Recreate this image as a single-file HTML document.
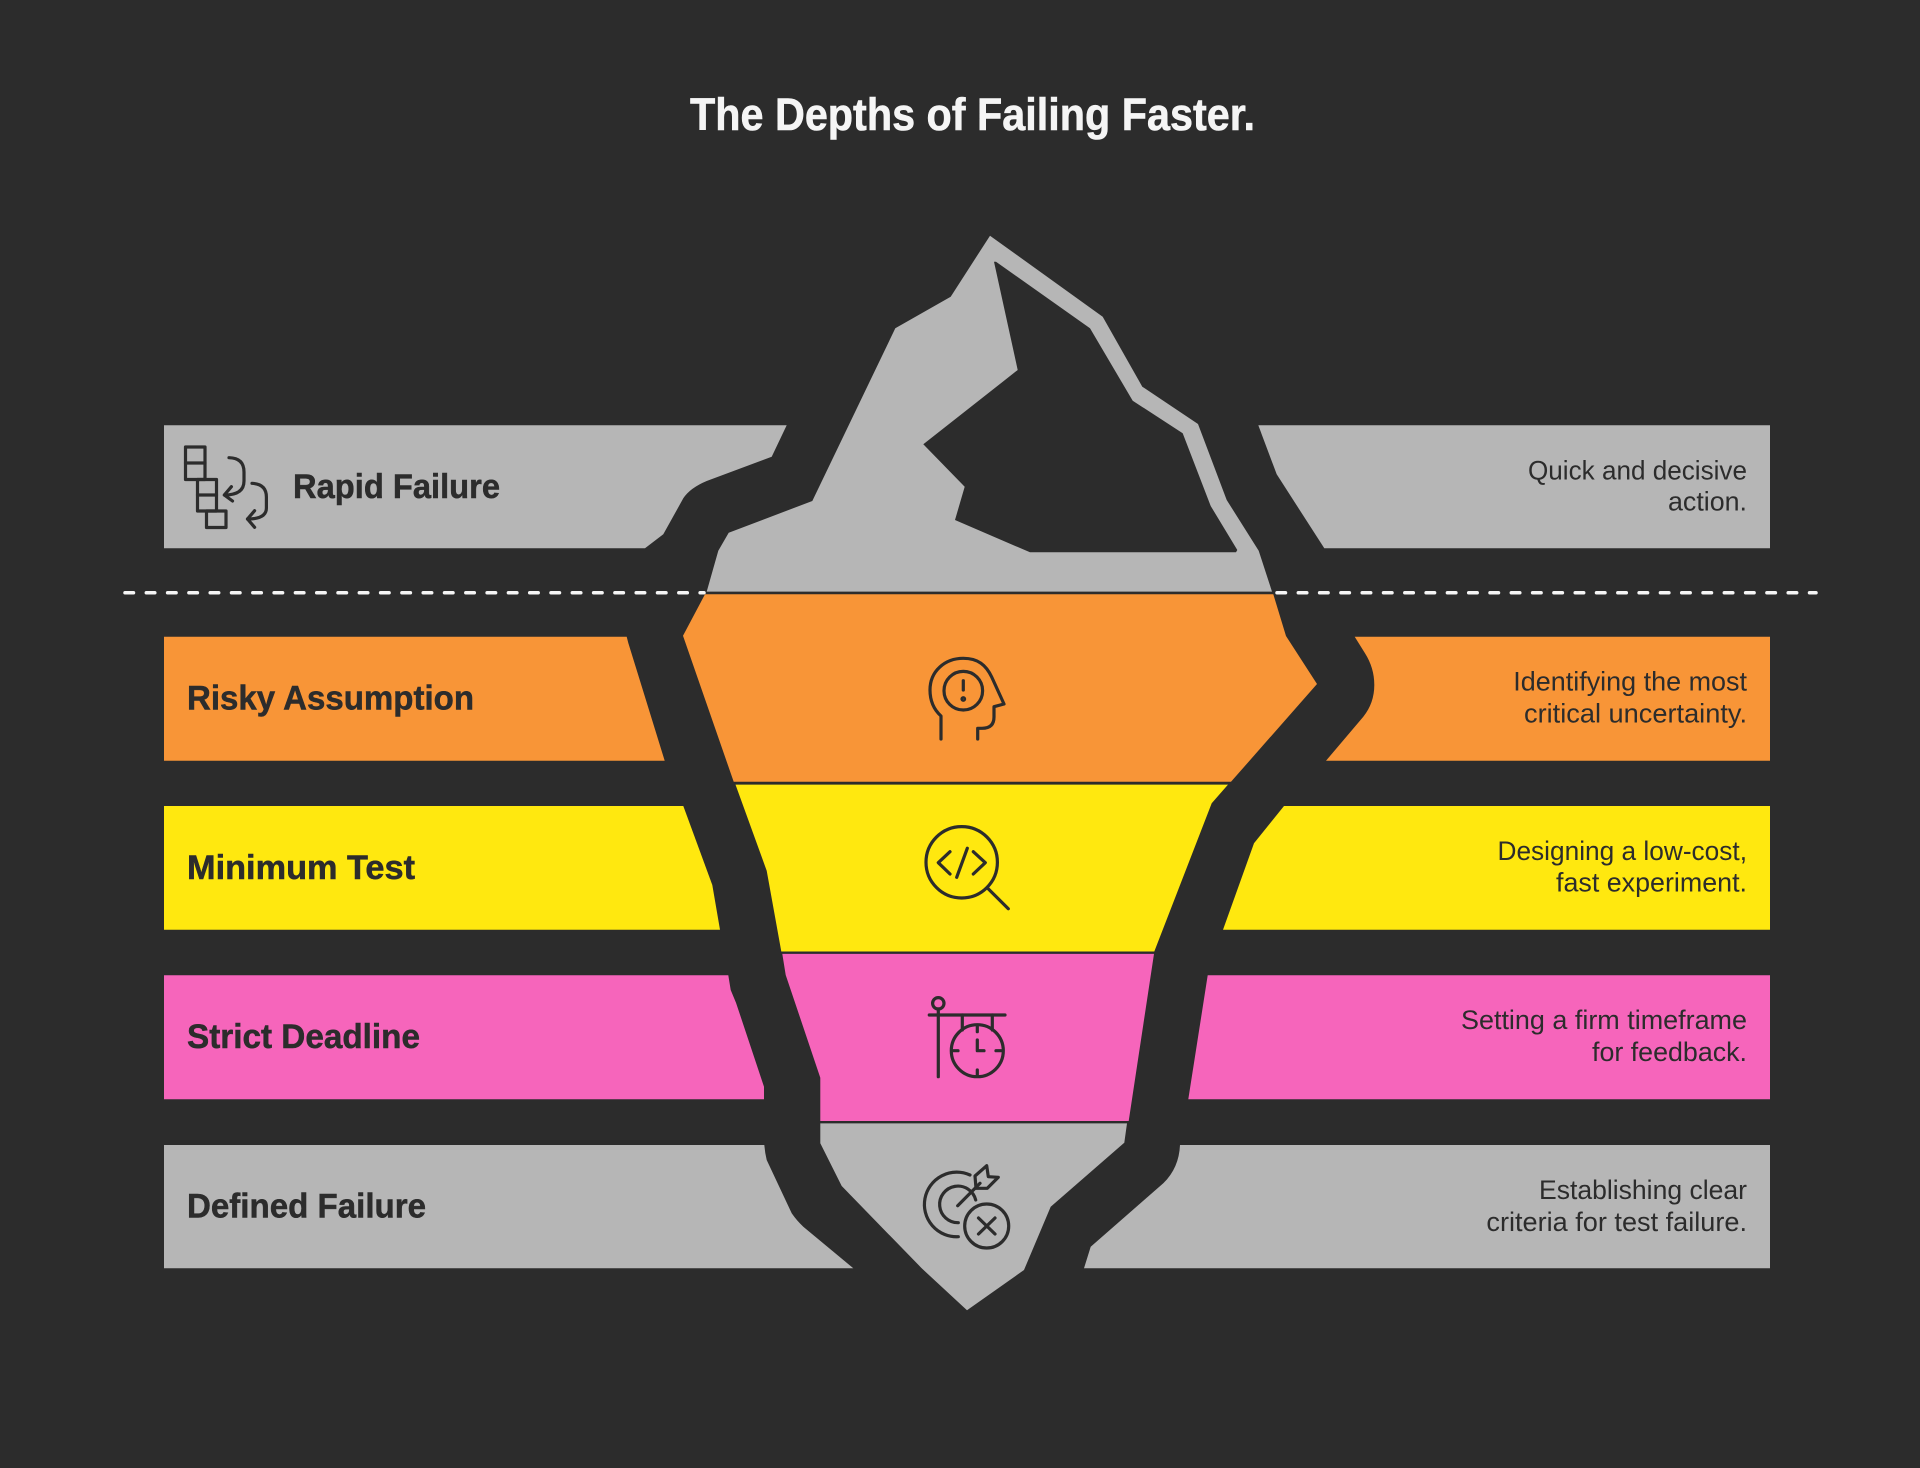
<!DOCTYPE html>
<html lang="en">
<head>
<meta charset="utf-8">
<title>The Depths of Failing Faster.</title>
<style>
html,body{margin:0;padding:0;background:#2c2c2c;width:1920px;height:1468px;overflow:hidden}
svg{display:block}
text{font-family:"Liberation Sans",sans-serif;fill:#2c2c2c}
.h{font-weight:700;font-size:34px;stroke:#2c2c2c;stroke-width:.5px}
.d{font-size:27px;text-anchor:end}
.i{fill:none;stroke:#2c2c2c;stroke-width:3.2;stroke-linecap:round;stroke-linejoin:round}
</style>
</head>
<body>
<svg xmlns="http://www.w3.org/2000/svg" width="1920" height="1468" viewBox="0 0 1920 1468">
<rect width="1920" height="1468" fill="#2c2c2c"/>
<text x="690" y="130" font-size="45" font-weight="700" style="fill:#f5f5f5;stroke:#f5f5f5;stroke-width:.6px" textLength="565" lengthAdjust="spacingAndGlyphs">The Depths of Failing Faster.</text>

<!-- left bars -->
<path fill="#b6b6b6" d="M164,425.3H786.7L771.7,456.7L706.7,481Q690,488 683.3,498.3L663.3,534.3L645,548.3H164Z"/>
<path fill="#f89537" d="M164,636.7H626.7L628.3,643L664.7,760.7H164Z"/>
<path fill="#ffe80f" d="M164,806H683.3L712.3,885L720,929.7H164Z"/>
<path fill="#f665bb" d="M164,975.3H728.3L730.7,990L736,1002.7L764,1086.7V1099.3H164Z"/>
<path fill="#b6b6b6" d="M164,1145H764.3Q765,1153 766.7,1160L791.7,1213.3Q797,1221 803.3,1226.7L853.3,1268.3H164Z"/>

<!-- right bars -->
<path fill="#b6b6b6" d="M1258.3,425.3H1770V548.3H1324.3L1276.7,474.3Z"/>
<path fill="#f89537" d="M1354.7,636.7L1365,653.3Q1374.3,668 1374.3,685Q1374.3,703 1363.3,716.7L1326,760.7H1770V636.7Z"/>
<path fill="#ffe80f" d="M1284,806H1770V929.7H1223L1254,843.3Z"/>
<path fill="#f665bb" d="M1207.7,975.3H1770V1099.3H1188.3Z"/>
<path fill="#b6b6b6" d="M1180,1145H1770V1268.3H1084L1090.7,1246.7L1163.3,1183.3Q1179,1168 1180,1145Z"/>

<!-- dashed waterline -->
<line x1="125" y1="592.7" x2="704" y2="592.7" stroke="#f5f5f5" stroke-width="3.5" stroke-linecap="round" stroke-dasharray="8.5 12.8"/>
<line x1="1277" y1="592.7" x2="1816" y2="592.7" stroke="#f5f5f5" stroke-width="3.5" stroke-linecap="round" stroke-dasharray="8.5 12.8"/>

<!-- iceberg -->
<path fill="#b6b6b6" fill-rule="evenodd" d="M990,235.7L1102.7,316.7L1142.3,386.7L1198,424L1226.7,500L1258.7,550.7L1272,591.6H706.7L718.3,550.7L728.7,532.7L812.3,501L895.3,328.3L950.7,296.7Z
M994,261.7L996,261.7L1090,328.3L1132.7,400.7L1182.7,433.3L1210.7,506L1237.3,550L1236,552.3H1030L955,520L964.7,486.7L923.3,444.3L1017.7,370Z"/>
<path fill="#f89537" d="M705,594.2H1273.3L1286,636L1317,684L1231,781.8H733.7L683,635.7Z"/>
<path fill="#ffe80f" d="M735.5,784.6H1228L1211.7,803.3L1154.3,951.5H781.3L766.7,870.7Z"/>
<path fill="#f665bb" d="M782.3,953.9H1154L1128.7,1121H820.3V1077.7L785.7,975Z"/>
<path fill="#b6b6b6" d="M820.3,1123.4H1127L1124.3,1142.7L1050.7,1206.7L1024,1270L967,1310.3L921.7,1268.3L841.7,1186L820.3,1143.3Z"/>

<!-- labels -->
<text class="h" x="293" y="498" textLength="207" lengthAdjust="spacingAndGlyphs">Rapid Failure</text>
<text class="h" x="187" y="709.5" textLength="287" lengthAdjust="spacingAndGlyphs">Risky Assumption</text>
<text class="h" x="187" y="879" textLength="228" lengthAdjust="spacingAndGlyphs">Minimum Test</text>
<text class="h" x="187" y="1048" textLength="233" lengthAdjust="spacingAndGlyphs">Strict Deadline</text>
<text class="h" x="187" y="1217.5" textLength="239" lengthAdjust="spacingAndGlyphs">Defined Failure</text>

<text class="d" x="1747" y="479.3" textLength="219" lengthAdjust="spacingAndGlyphs">Quick and decisive</text>
<text class="d" x="1747" y="510.7" textLength="79" lengthAdjust="spacingAndGlyphs">action.</text>
<text class="d" x="1747" y="690.7" textLength="233.7" lengthAdjust="spacingAndGlyphs">Identifying the most</text>
<text class="d" x="1747" y="722.7" textLength="223" lengthAdjust="spacingAndGlyphs">critical uncertainty.</text>
<text class="d" x="1747" y="860" textLength="249.5" lengthAdjust="spacingAndGlyphs">Designing a low-cost,</text>
<text class="d" x="1747" y="891.7" textLength="191" lengthAdjust="spacingAndGlyphs">fast experiment.</text>
<text class="d" x="1747" y="1029" textLength="286" lengthAdjust="spacingAndGlyphs">Setting a firm timeframe</text>
<text class="d" x="1747" y="1061" textLength="155" lengthAdjust="spacingAndGlyphs">for feedback.</text>
<text class="d" x="1747" y="1199" textLength="208" lengthAdjust="spacingAndGlyphs">Establishing clear</text>
<text class="d" x="1747" y="1231" textLength="260.6" lengthAdjust="spacingAndGlyphs">criteria for test failure.</text>

<!-- rapid icon -->
<g class="i">
<rect x="185.5" y="447" width="19.5" height="32.5"/><path d="M185.5,463H205"/>
<rect x="197.5" y="479.5" width="19" height="31.5"/><path d="M197.5,495H216.5"/>
<rect x="206.5" y="511" width="19.5" height="16.5"/>
<path d="M229,457.7Q244,458 244,472V481Q244,495 224.5,495"/><path d="M231.4,486.7L224.3,495L232.5,501"/>
<path d="M252,483.3Q266.4,484 266.4,497V508Q266.4,519 247.5,519"/><path d="M254.6,510.7L247.5,519L254.6,527.3"/>
</g>

<!-- head icon -->
<g class="i">
<path d="M941,739V716Q930,706 930,690C930,671 945,658.3 963.3,658.3C978,658.3 986,665 991.7,677L1004,704L994,706.7V717Q994,728.3 982,728.3H977.7V739"/>
<circle cx="963.3" cy="690.7" r="19.3"/>
<path d="M963.3,680.7V690"/>
<circle cx="963.3" cy="699" r="1.3"/>
</g>

<!-- code icon -->
<g class="i">
<circle cx="961.7" cy="862.3" r="35.7"/>
<path d="M950,851.7L938.3,862.7L950,874"/>
<path d="M973.3,851.7L985.3,862.7L973.3,874"/>
<path d="M967.3,848.3L956.7,877.3"/>
<path d="M987.7,888.3L1008.3,908.7"/>
</g>

<!-- clock icon -->
<g class="i">
<circle cx="938.3" cy="1003.3" r="5.7"/>
<path d="M938.3,1009V1076.7"/>
<path d="M929.3,1015H1005"/>
<path d="M962.3,1015V1030M992.3,1015V1030"/>
<circle cx="977.3" cy="1050.7" r="26"/>
<path d="M977.3,1026.7V1031.7M977.3,1070V1075M953,1050.7H958M996,1050.7H1001"/>
<path d="M977.3,1040V1050.7H984"/>
</g>

<!-- target icon -->
<g class="i">
<path d="M970,1175A32.3,32.3 0 1 0 958.3,1236.7"/>
<path d="M975.7,1200A18.3,18.3 0 1 0 958.3,1222.7"/>
<path d="M957.7,1205.7L980,1183.3"/>
<path d="M975,1176L986.7,1165.7L988.3,1176.7L998.3,1177.3L987.3,1188.3H976Z"/>
<circle cx="986.7" cy="1226" r="22"/>
<path d="M978.5,1218L995,1234M995,1218L978.5,1234"/>
</g>
</svg>
</body>
</html>
